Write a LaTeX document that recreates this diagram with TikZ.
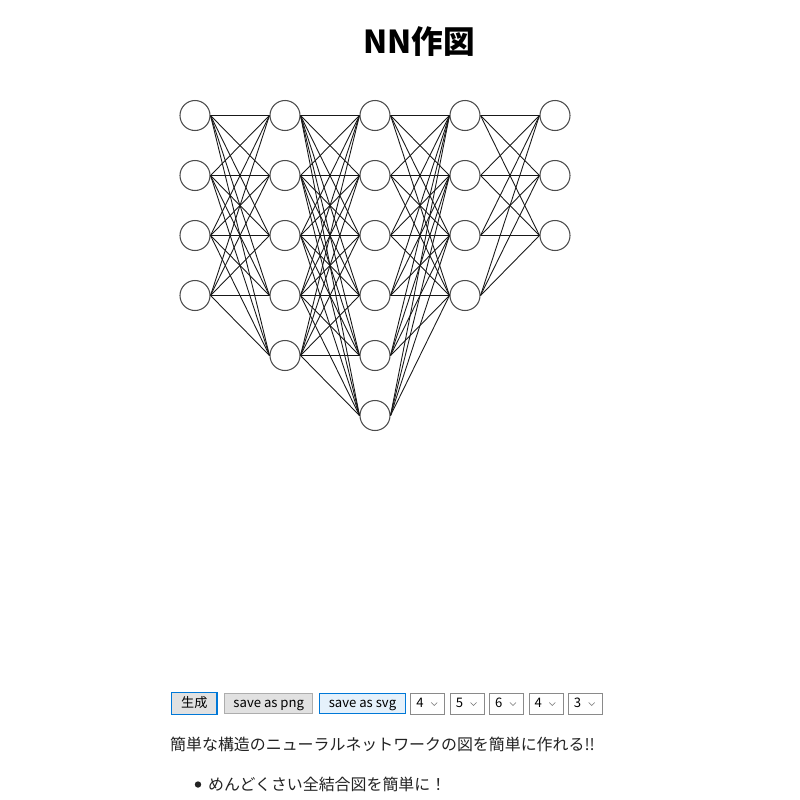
\documentclass[tikz,border=0pt]{standalone}
\usepackage{fontspec}
\setmainfont{Noto Sans CJK JP}
\usetikzlibrary{positioning}
\definecolor{btnface}{HTML}{E1E1E1}
\definecolor{btnedge}{HTML}{ADADAD}
\definecolor{focusblue}{HTML}{0078D7}
\definecolor{svgface}{HTML}{E5F1FB}
\definecolor{seledge}{HTML}{8A8A8A}
\definecolor{bodytext}{HTML}{222222}

\begin{document}
\begin{tikzpicture}[
    x=0.03cm, y=-0.03cm,
    neuron/.style={
      circle, draw=black!70, line width=0.9pt, fill=white,
      minimum size=0.9cm, inner sep=0pt
    },
    synapse/.style={line width=0.75pt, black!90},
    btn/.style={
      draw=btnedge, fill=btnface, line width=0.6pt, inner sep=0pt,
      minimum height=0.6cm, text height=0.84em, text depth=0.12em,
      font=\fontsize{11.2}{13}\selectfont
    },
    selbox/.style={
      draw=seledge, fill=white, line width=0.6pt, inner sep=0pt,
      minimum width=1.02cm, minimum height=0.63cm
    },
    chev/.style={line width=0.5pt, black!55}
  ]
    \fill[white] (0,0) rectangle (800,800);
    \useasboundingbox (0,0) rectangle (800,800);

    % title
    \node[font=\fontsize{27}{31}\selectfont\bfseries] (title) at (419,42) {NN作図};

    % layers 4-5-6-4-3
    \foreach \n [count=\i] in {4,5,6,4,3}
      \foreach \j in {1,...,\n}
        \node[neuron] (n\i-\j) at ({105+90*\i},{55.5+60*\j}) {};

    % full connections
    \foreach \i/\a/\b in {1/4/5, 2/5/6, 3/6/4, 4/4/3} {
      \pgfmathtruncatemacro\nxt{\i+1}
      \foreach \j in {1,...,\a}
        \foreach \k in {1,...,\b}
          \draw[synapse] (n\i-\j.east) -- (n\nxt-\k.west);
    }

    % controls
    \node[btn, draw=focusblue, line width=1.2pt, minimum width=1.36cm,
      minimum height=0.66cm, anchor=west] (gen) at (171,703.5) {生成};
    \node[btn, minimum width=2.64cm, right=0.2cm of gen] (pngbtn) {save as png};
    \node[btn, draw=focusblue, fill=svgface, minimum width=2.58cm,
      right=0.18cm of pngbtn] (svgbtn) {save as svg};
    \foreach \v/\prev [count=\k] in {4/svgbtn, 5/s1, 6/s2, 4/s3, 3/s4} {
      \node[selbox, right=0.14cm of \prev] (s\k) {};
      \node[anchor=west, inner sep=0pt, text height=0.84em, text depth=0.12em,
        font=\fontsize{11.2}{13}\selectfont]
        (v\k) at ([xshift=0.17cm]s\k.west) {\v};
      \draw[chev] ([xshift=-0.42cm,yshift=0.03cm]s\k.east) -- ++(0.09cm,-0.09cm)
        -- ++(0.09cm,0.09cm);
    }

    % description
    \node[anchor=west, inner sep=0pt, text=bodytext, font=\fontsize{13.6}{16}\selectfont]
      (desc) at (170,744.5) {簡単な構造のニューラルネットワークの図を簡単に作れる!!};
    \node[anchor=west, inner sep=0pt, text=bodytext, font=\fontsize{13.6}{16}\selectfont]
      (item) at (208,784.5) {めんどくさい全結合図を簡単に！};
    \fill[bodytext] (198,784.5) circle (3.2);
  \end{tikzpicture}
\end{document}
